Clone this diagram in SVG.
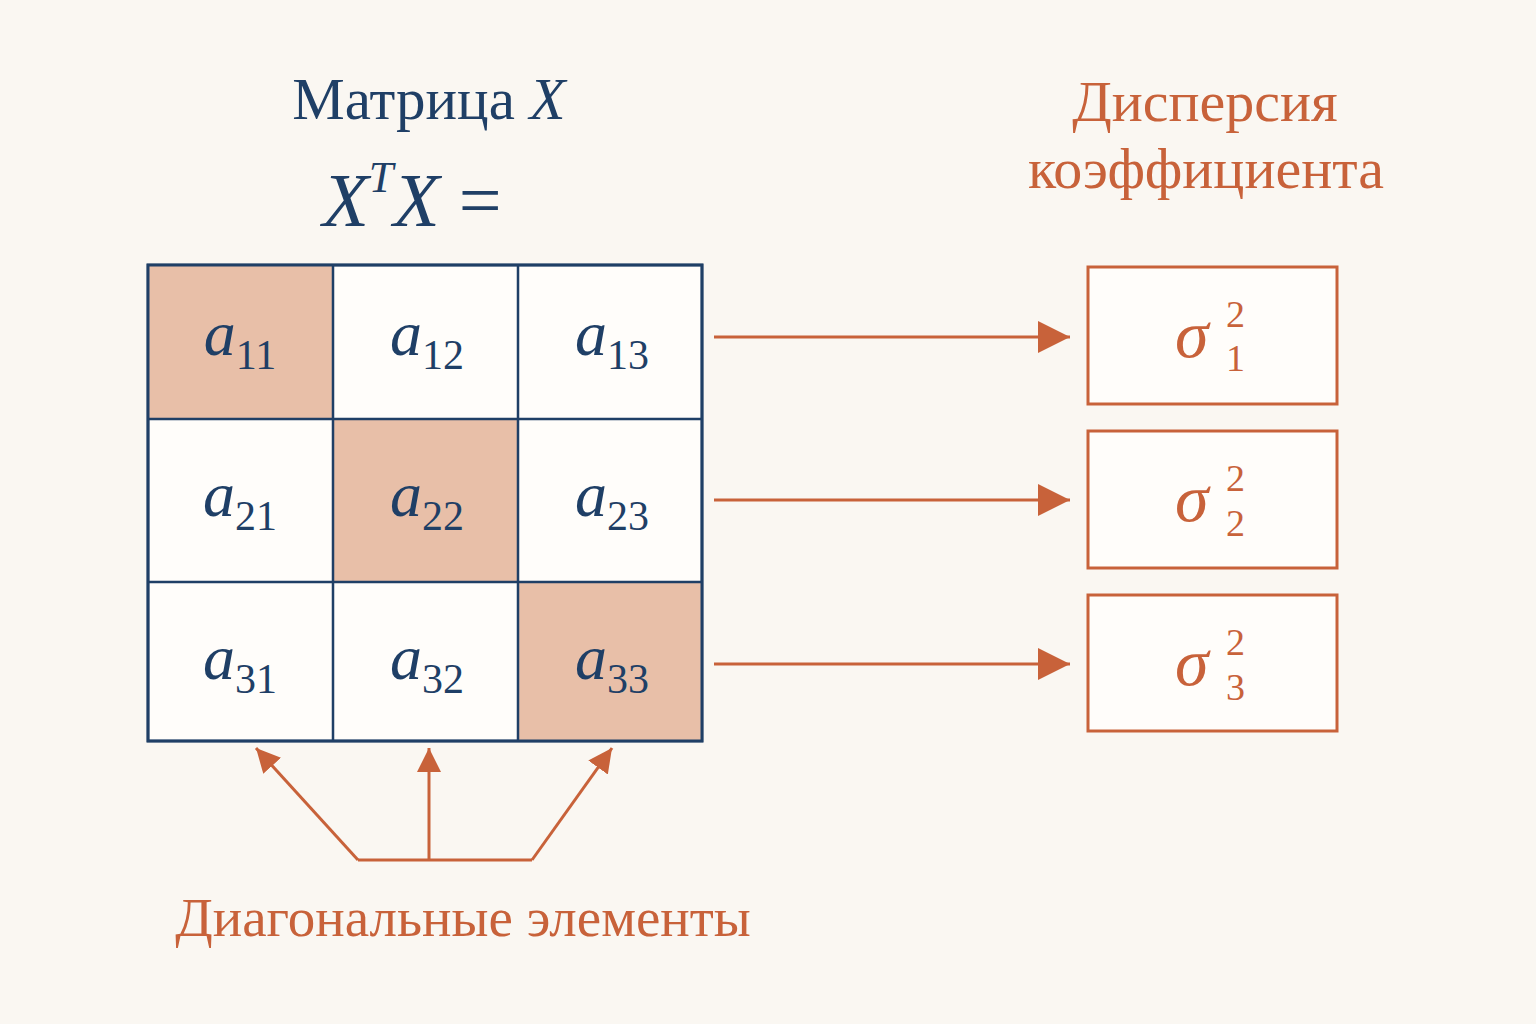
<svg xmlns="http://www.w3.org/2000/svg" width="1536" height="1024" viewBox="0 0 1536 1024">
<defs>
<style>
.n{fill:#1f3f66;font-family:"Liberation Serif",serif}
.o{fill:#c8623a;font-family:"Liberation Serif",serif}
.cell{stroke:#1f3f66;stroke-width:2.5;fill:#fffdfa}
.hl{fill:#e8bfa8}
.ln{stroke:#c8623a;stroke-width:3;fill:none}
.box{stroke:#c8623a;stroke-width:3;fill:#fffdfa}
.a{font-size:64px;font-style:italic}
.s{font-size:42px;font-style:normal}
</style>
<marker id="ah2" viewBox="0 0 10 10" refX="10" refY="5" markerWidth="32" markerHeight="32" orient="auto" markerUnits="userSpaceOnUse"><path d="M0,0L10,5L0,10z" fill="#c8623a"/></marker>
<marker id="ah3" viewBox="0 0 10 10" refX="10" refY="5" markerWidth="24" markerHeight="24" orient="auto" markerUnits="userSpaceOnUse"><path d="M0,0L10,5L0,10z" fill="#c8623a"/></marker>
</defs>
<rect width="1536" height="1024" fill="#faf7f2"/>
<g id="titles">
<text x="429" y="119" text-anchor="middle" class="n" font-size="59">Матрица <tspan font-style="italic">X</tspan></text>
<text x="412" y="226" text-anchor="middle" class="n" font-size="76" font-style="italic">X<tspan font-size="44" dy="-34">T</tspan><tspan dy="34">X</tspan><tspan font-style="normal"> =</tspan></text>
<text x="1205" y="121" text-anchor="middle" class="o" font-size="58">Дисперсия</text>
<text x="1206" y="188" text-anchor="middle" class="o" font-size="58">коэффициента</text>
</g>
<g id="matrix">
<rect class="cell" x="148" y="265" width="554" height="476"/>
<rect class="hl" x="149" y="266" width="184" height="153"/>
<rect class="hl" x="333" y="419" width="185" height="163"/>
<rect class="hl" x="518" y="582" width="183" height="158"/>
<path d="M333,265V741M518,265V741M148,419H702M148,582H702" stroke="#1f3f66" stroke-width="2.5"/>
<rect x="148" y="265" width="554" height="476" fill="none" stroke="#1f3f66" stroke-width="3"/>
<g class="n a" text-anchor="middle">
<text x="240" y="355">a<tspan class="s" dy="14">11</tspan></text>
<text x="427" y="355">a<tspan class="s" dy="14">12</tspan></text>
<text x="612" y="355">a<tspan class="s" dy="14">13</tspan></text>
<text x="240" y="516">a<tspan class="s" dy="14">21</tspan></text>
<text x="427" y="516">a<tspan class="s" dy="14">22</tspan></text>
<text x="612" y="516">a<tspan class="s" dy="14">23</tspan></text>
<text x="240" y="679">a<tspan class="s" dy="14">31</tspan></text>
<text x="427" y="679">a<tspan class="s" dy="14">32</tspan></text>
<text x="612" y="679">a<tspan class="s" dy="14">33</tspan></text>
</g>
</g>
<g id="boxes">
<rect class="box" x="1088" y="267" width="249" height="137"/>
<rect class="box" x="1088" y="431" width="249" height="137"/>
<rect class="box" x="1088" y="595" width="249" height="136"/>
<g class="o" font-size="68">
<text x="1175" y="357" font-style="italic">σ</text><text x="1226" y="327" font-size="38">2</text><text x="1226" y="371" font-size="38">1</text>
<text x="1175" y="521" font-style="italic">σ</text><text x="1226" y="491" font-size="38">2</text><text x="1226" y="536" font-size="38">2</text>
<text x="1175" y="685" font-style="italic">σ</text><text x="1226" y="655" font-size="38">2</text><text x="1226" y="700" font-size="38">3</text>
</g>
</g>
<g id="connectors">
<line class="ln" x1="714" y1="337" x2="1070" y2="337" marker-end="url(#ah2)"/>
<line class="ln" x1="714" y1="500" x2="1070" y2="500" marker-end="url(#ah2)"/>
<line class="ln" x1="714" y1="664" x2="1070" y2="664" marker-end="url(#ah2)"/>
<path class="ln" d="M358,860H532"/>
<line class="ln" x1="358" y1="860" x2="256" y2="748" marker-end="url(#ah3)"/>
<line class="ln" x1="429" y1="860" x2="429" y2="748" marker-end="url(#ah3)"/>
<line class="ln" x1="532" y1="860" x2="612" y2="748" marker-end="url(#ah3)"/>
</g>
<g id="label">
<text x="463" y="936" text-anchor="middle" class="o" font-size="55">Диагональные элементы</text>
</g>
</svg>
